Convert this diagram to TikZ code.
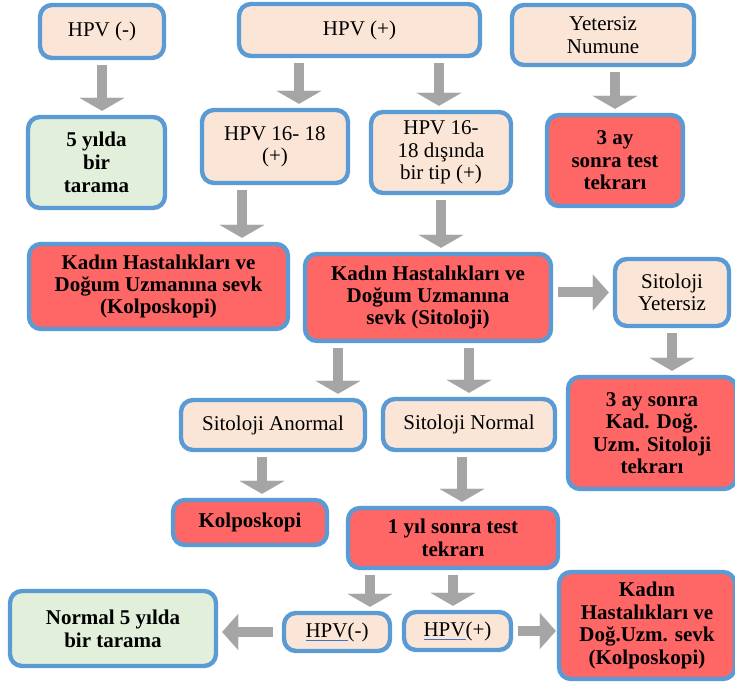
\documentclass[tikz,border=0pt]{standalone}
\usepackage{fontspec}
\setmainfont{Liberation Serif}
\usetikzlibrary{arrows.meta}

\definecolor{kenar}{HTML}{5B9BD5}
\definecolor{seftali}{HTML}{FBE5D6}
\definecolor{yesil}{HTML}{E2EFDA}
\definecolor{kirmizi}{HTML}{FF6666}
\definecolor{okgri}{HTML}{A5A5A5}
\definecolor{altcizgi}{HTML}{4472C4}

\tikzstyle{basebox}=[draw=kenar, line width=2.2pt, rounded corners=6pt,
                     align=center, inner sep=0pt,
                     font=\fontsize{10.5}{11.2}\selectfont]
\tikzstyle{peach}=[basebox, fill=seftali]
\tikzstyle{greenbox}=[basebox, fill=yesil, font=\fontsize{10.5}{11.6}\selectfont\bfseries]
\tikzstyle{redbox}=[basebox, fill=kirmizi, font=\fontsize{10.5}{11.2}\selectfont\bfseries]
\tikzstyle{varrow}=[draw=okgri, line width=5pt, shorten <=2.5pt, shorten >=2pt,
                    -{Triangle[width=22.5pt,length=6.5pt,line width=0.1pt]}]
\tikzstyle{harrow}=[varrow, -{Triangle[width=18pt,length=8pt,line width=0.1pt]}]

\newcommand{\hpvalt}[1]{\textcolor{altcizgi}{\underline{\textcolor{black}{HPV}}}(#1)}

\begin{document}
\begin{tikzpicture}[x=0.5pt, y=-0.5pt]
  \fill[white] (0,0) rectangle (735,689);
  \useasboundingbox (0,0) rectangle (735,689);

  % top row
  \node[peach, minimum width=62pt, minimum height=26.5pt] (hpvneg) at (102,31.5) {HPV (-)};
  \node[peach, minimum width=120.5pt, minimum height=26pt] (hpvpos) at (359.5,30) {HPV (+)};
  \node[peach, minimum width=91pt, minimum height=30pt] (yetersiz) at (603,35) {Yetersiz\\Numune};

  \node[greenbox, minimum width=68.5pt, minimum height=45.5pt] (tarama5) at (96.5,162.5) {5 yılda\\bir\\tarama};
  \node[peach, minimum width=73pt, minimum height=36.5pt] (hpv1618) at (275,146.5) {HPV 16- 18\\(+)};
  \node[peach, minimum width=70pt, minimum height=40.5pt] (hpvdiger) at (441,152.5) {HPV 16-\\18 dışında\\bir tip (+)};
  \node[redbox, minimum width=68pt, minimum height=45.5pt] (test3ay) at (615,160.5) {3 ay\\sonra test\\tekrarı};

  % sevk row
  \node[redbox, minimum width=129.5pt, minimum height=42.5pt] (sevkkolpo) at (158.5,286.5)
    {Kadın Hastalıkları ve\\Doğum Uzmanına sevk\\(Kolposkopi)};
  \node[redbox, minimum width=123pt, minimum height=43.5pt] (sevksito) at (428,297.5)
    {Kadın Hastalıkları ve\\Doğum Uzmanına\\sevk (Sitoloji)};
  \node[peach, minimum width=57pt, minimum height=33.5pt] (sitoyet) at (672,292.5) {Sitoloji\\Yetersiz};
  \node[redbox, minimum width=84pt, minimum height=56pt] (sito3ay) at (652,433)
    {3 ay sonra\\Kad. Doğ.\\Uzm. Sitoloji\\tekrarı};

  % sitoloji results
  \node[peach, minimum width=92pt, minimum height=25pt] (sitoanormal) at (273,425) {Sitoloji Anormal};
  \node[peach, minimum width=86pt, minimum height=25.5pt] (sitonormal) at (469,424.5) {Sitoloji Normal};
  \node[redbox, minimum width=77pt, minimum height=22.5pt] (kolpo) at (250,522.5) {Kolposkopi};
  \node[redbox, minimum width=105pt, minimum height=30pt] (test1yil) at (453,538) {1 yıl sonra test\\tekrarı};

  % bottom row
  \node[greenbox, minimum width=103pt, minimum height=37.5pt] (normal5) at (113,628.5) {Normal 5 yılda\\bir tarama};
  \node[peach, minimum width=53pt, minimum height=19pt] (hpvneg2) at (337,632) {\hpvalt{-}};
  \node[peach, minimum width=53.5pt, minimum height=19pt] (hpvpos2) at (457.5,631) {\hpvalt{+}};
  \node[redbox, minimum width=88pt, minimum height=53.5pt] (sevk2) at (647,625.5)
    {Kadın\\Hastalıkları ve\\Doğ.Uzm. sevk\\(Kolposkopi)};

  % arrows
  \draw[varrow] (hpvneg.south) -- (hpvneg.south |- tarama5.north);
  \draw[varrow] ([xshift=-30.25pt]hpvpos.south) -- ([xshift=-30.25pt]hpvpos.south |- hpv1618.north);
  \draw[varrow] ([xshift=39.75pt]hpvpos.south) -- ([xshift=39.75pt]hpvpos.south |- hpvdiger.north);
  \draw[varrow] (test3ay.north |- yetersiz.south) -- (test3ay.north);
  \draw[varrow] ([xshift=-16.5pt]hpv1618.south) -- ([xshift=-16.5pt]hpv1618.south |- sevkkolpo.north);
  \draw[varrow] (hpvdiger.south) -- (hpvdiger.south |- sevksito.north);
  \draw[harrow] (sevksito.east |- sitoyet.west) -- (sitoyet.west);
  \draw[varrow] (sitoyet.south) -- (sitoyet.south |- sito3ay.north);
  \draw[varrow] ([xshift=-45pt]sevksito.south) -- ([xshift=-45pt]sevksito.south |- sitoanormal.north);
  \draw[varrow] (sitonormal.north |- sevksito.south) -- (sitonormal.north);
  \draw[varrow] ([xshift=-5.5pt]sitoanormal.south) -- ([xshift=-5.5pt]sitoanormal.south |- kolpo.north);
  \draw[varrow] ([xshift=-3.5pt]sitonormal.south) -- ([xshift=-3.5pt]sitonormal.south |- test1yil.north);
  \draw[varrow] ([xshift=-41.5pt]test1yil.south) -- ([xshift=-41.5pt]test1yil.south |- hpvneg2.north);
  \draw[varrow] (test1yil.south) -- (test1yil.south |- hpvpos2.north);
  \draw[harrow, shorten <=4.5pt] (hpvneg2.west) -- (hpvneg2.west -| normal5.east);
  \draw[harrow, shorten >=0.5pt] (hpvpos2.east) -- (hpvpos2.east -| sevk2.west);

\end{tikzpicture}
\end{document}
